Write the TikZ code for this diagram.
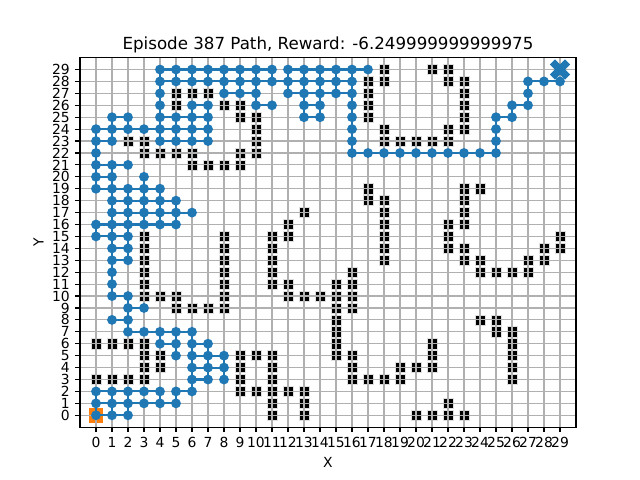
\documentclass[tikz,border=0pt]{standalone}
\usepackage{fontspec}
\setmainfont{DejaVu Sans}

% cells the agent went through, row by row
\newcommand{\visitedcells}{%
29/{4,5,6,7,8,9,10,11,12,13,14,15,16,17},%
28/{4,5,6,7,8,9,10,11,12,13,14,15,16,27,28,29},%
27/{4,8,9,10,12,13,14,15,16,27},%
26/{4,6,7,10,11,13,14,16,26,27},%
25/{1,2,4,5,6,7,13,14,16,25,26},%
24/{0,1,2,3,4,5,6,7,16,25},%
23/{0,1,4,5,6,7,16,25},%
22/{0,16,17,18,19,20,21,22,23,24,25},%
21/{0,1,2},20/{0,1,3},19/{0,1,2,3,4},18/{1,2,3,4,5},17/{1,2,3,4,5,6},%
16/{0,1,2,3,4,5},15/{0,1,2},14/{1,2},13/{1,2},12/{1},11/{1},10/{1,2},%
9/{2,3},8/{1,2},7/{2,3,4,5,6},6/{4,5,6,7},5/{5,6,7,8},4/{6,7,8},3/{6,7,8},%
2/{0,1,2,3,4,5,6},1/{0,1,2,3,4,5},0/{0,1,2}}

\begin{document}
\begin{tikzpicture}
		[x=11.52pt,y=8.5843pt,
		%Styles
		axes/.style={black,line width=0.8pt},
		grid line/.style={gridgray,line width=0.8pt},
		wall/.style={rectangle,fill=black,draw=gray!25,line width=0.4pt,inner sep=0pt,minimum size=7.3pt},
		startcell/.style={rectangle,fill=startorange,inner sep=0pt,minimum size=10.6pt},
		visit/.style={circle,fill=pathblue,inner sep=0pt,minimum size=7.1pt},
		route/.style={pathblue,line width=1.5pt},
		tick text/.style={inner sep=0pt,font=\fontsize{10}{12}\selectfont}
		]
		
		%Colors
		\definecolor{pathblue}{HTML}{1F77B4}
		\definecolor{startorange}{HTML}{FF7F0E}
		\definecolor{gridgray}{HTML}{B0B0B0}
		
		%The graphic
		\useasboundingbox (-6,-5.4286) rectangle (34,34.831);
		
		%obstacles and start, under the grid
		\foreach \y/\xs in {29/{18,21,22},28/{17,18,22,23},27/{5,6,7,17,23},%
				26/{5,8,9,17,23},25/{9,10,17,23},24/{10,18,22,23},%
				23/{2,3,10,18,19,20,21,22},22/{3,4,5,6,9,10},21/{6,7,8,9},%
				19/{17,23,24},18/{17,18,23},17/{13,18,23},16/{12,18,22,23},%
				15/{3,8,11,12,18,22,29},14/{3,8,11,18,22,23,28,29},%
				13/{3,8,11,18,23,24,27,28},12/{3,8,11,16,24,25,26,27},%
				11/{3,8,11,12,15,16},10/{3,4,5,8,12,13,14,15,16},%
				9/{5,6,7,8,15,16},8/{15,24,25},7/{15,25,26},6/{0,1,2,3,15,21,26},%
				5/{3,4,9,10,11,15,16,21,26},4/{3,4,9,11,16,19,20,21,26},%
				3/{0,1,2,3,9,11,16,17,18,19,26},2/{9,10,11,12,13},1/{11,13,22},%
				0/{11,13,20,21,22,23}}
			\foreach \x in \xs
				\node[wall] (w\x-\y) at (\x,\y) {};
		\node[startcell] (start) at (0,0) {};
		
		\foreach \i in {0,...,29} {
			\draw[grid line] (\i,-1) -- (\i,30);
			\draw[grid line] (-1,\i) -- (30,\i);
		}
		
		%the path
		\foreach \y/\xs in \visitedcells
			\foreach \x in \xs
				\coordinate (p\x-\y) at (\x,\y);
		\foreach \y/\a/\b in {29/4/11,29/12/17,28/4/16,28/27/29,27/8/10,27/12/16,%
				26/6/7,26/10/11,26/13/14,26/26/27,25/1/2,25/4/7,25/13/14,25/25/26,%
				24/0/7,23/0/1,23/4/7,22/16/25,21/0/2,20/0/1,19/0/4,18/1/5,17/1/6,%
				16/0/5,15/0/2,14/1/2,13/1/2,10/1/2,9/2/3,8/1/2,7/2/6,6/4/5,6/6/7,%
				5/6/8,4/6/8,3/6/7,2/0/4,2/5/6,1/0/5,0/0/2}
			\draw[route] (p\a-\y) -- (p\b-\y);
		\foreach \x/\a/\b in {0/19/24,0/15/16,0/0/2,1/23/25,1/10/21,1/0/2,2/24/25,%
				2/13/19,2/7/10,2/0/2,3/16/20,4/23/29,4/16/19,4/6/7,4/1/2,5/28/29,%
				5/23/25,5/16/18,5/5/7,5/1/2,6/28/29,6/23/26,6/2/7,7/28/29,7/23/26,%
				7/3/6,8/27/29,8/3/5,9/27/29,10/26/29,11/28/29,12/27/29,13/25/29,%
				14/25/29,15/27/29,16/22/29,25/22/25,26/25/26,27/26/28}
			\draw[route] (p\x-\a) -- (p\x-\b);
		\foreach \y/\xs in \visitedcells
			\foreach \x in \xs
				\node[visit] (v\x-\y) at (p\x-\y) {};
		
		\coordinate (goal) at (29,29);
		\fill[pathblue,shift={(goal)},x=2.583pt,y=2.583pt,rotate=45]
			(-1,-3) -- (1,-3) -- (1,-1) -- (3,-1) -- (3,1) -- (1,1) -- (1,3)
			-- (-1,3) -- (-1,1) -- (-3,1) -- (-3,-1) -- (-1,-1) -- cycle;
		
		%axes
		\draw[axes] (-1,-1) rectangle (30,30);
		\foreach \i in {0,...,29} {
			\draw[axes] (\i,-1) -- ++(0pt,-3.5pt)
				node[tick text,anchor=north,yshift=-3.5pt] (xt\i) {\i};
			\draw[axes] (-1,\i) -- ++(-3.5pt,0pt)
				node[tick text,anchor=east,xshift=-3.5pt] (yt\i) {\i};
		}
		\node[font=\fontsize{10}{12}\selectfont] (xlabel) at (14.5,-3.92) {X};
		\node[font=\fontsize{10}{12}\selectfont,rotate=90] (ylabel) at (-3.59,14.5) {Y};
		\node[font=\fontsize{12}{14}\selectfont,anchor=base] (title) at (14.5,30.70)
			{Episode 387 Path, Reward: -6.249999999999975};
	\end{tikzpicture}
\end{document}
